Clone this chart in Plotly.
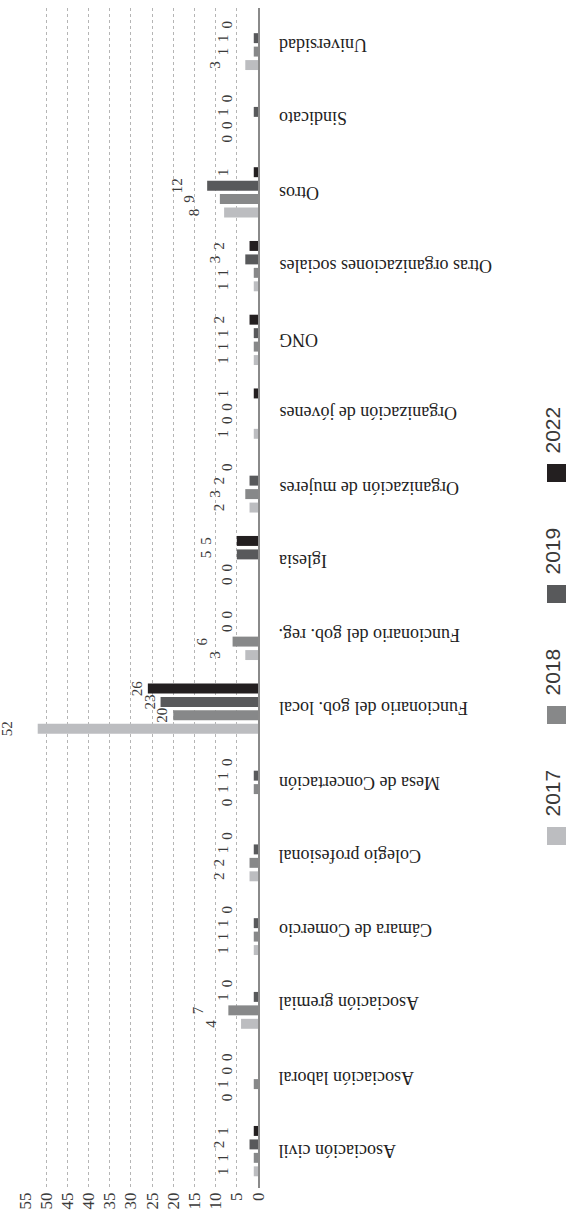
import plotly.graph_objects as go

# ---------------- data ----------------
categories = ["Asociación civil", "Asociación laboral", "Asociación gremial",
              "Cámara de Comercio", "Colegio profesional", "Mesa de Concertación",
              "Funcionario del gob. local", "Funcionario del gob. reg.", "Iglesia",
              "Organización de mujeres", "Organización de jóvenes", "ONG",
              "Otras organizaciones sociales", "Otros", "Sindicato", "Universidad"]
years = ["2017", "2018", "2019", "2022"]
v2017 = [1, 0, 4, 1, 2, 0, 52, 3, 0, 2, 1, 1, 1, 8, 0, 3]
v2018 = [1, 1, 7, 1, 2, 1, 20, 6, 0, 3, 0, 1, 1, 9, 0, 1]
v2019 = [2, 0, 1, 1, 1, 1, 23, 0, 5, 2, 0, 1, 3, 12, 1, 1]
v2022 = [1, 0, 0, 0, 0, 0, 26, 0, 5, 0, 1, 2, 2, 1, 0, 0]
series = [v2017, v2018, v2019, v2022]
value_ticks = list(range(0, 60, 5))

# ---------------- style ----------------
colors = ["#bcbdc0", "#878889", "#58595b", "#231f20"]
W, H = 566, 1225
ML, MR, MT, MB = 25, 308, 8, 37
PW, PH = W - ML - MR, H - MT - MB
SERIF = "Liberation Serif, Times New Roman, serif"
SANS = "Liberation Sans, Arial, sans-serif"
ZERO_LEN = 0.01  # invisible length for zero bars so their "0" label sits on the bar side


def px_x(x):
    return (x - ML) / PW


def px_y(y):
    return (H - MB - y) / PH


tight = {("Funcionario del gob. local", "2018"), ("Funcionario del gob. local", "2019"),
         ("Funcionario del gob. local", "2022")}

fig = go.Figure()
for yr, vals, col in zip(years, series, colors):
    texts, xs, cols = [], [], []
    for c, v in zip(categories, vals):
        texts.append(f"{v}" if (c, yr) in tight else f"{v}<br>\u00a0")
        xs.append(v if v else ZERO_LEN)
        cols.append(col if v else "rgba(0,0,0,0)")
    fig.add_trace(go.Bar(
        y=categories, x=xs, orientation="h", name=yr,
        marker=dict(color=cols, line=dict(width=0)),
        text=texts, textposition="outside", textangle=-90,
        constraintext="none", cliponaxis=False,
        textfont=dict(family=SERIF, size=15, color="#3a3a3a"),
        hoverinfo="skip",
    ))

# category labels (upside down, like the rotated original page)
annotations = []
for c in categories:
    annotations.append(dict(
        x=px_x(277), xref="paper", y=c, yref="y",
        text=c, showarrow=False, textangle=180,
        xanchor="left", yanchor="middle",
        font=dict(family=SERIF, size=18, color="#222222"),
    ))

# legend (rotated)
shapes = []
leg_sq_top = [827, 706, 585, 464]
for yr, col, top in zip(years, colors, leg_sq_top):
    shapes.append(dict(type="rect", xref="paper", yref="paper",
                       x0=px_x(547), x1=px_x(566), y0=px_y(top + 18), y1=px_y(top),
                       fillcolor=col, line=dict(width=0)))
    annotations.append(dict(
        x=px_x(552), xref="paper", y=px_y(top - 8), yref="paper",
        text=yr, showarrow=False, textangle=-90,
        xanchor="center", yanchor="bottom",
        font=dict(family=SANS, size=21, color="#3a3a3a"),
    ))

fig.update_layout(
    width=W, height=H, autosize=False,
    margin=dict(l=ML, r=MR, t=MT, b=MB, pad=0),
    paper_bgcolor="white", plot_bgcolor="white",
    barmode="group", bargap=0.27, bargroupgap=0.26,
    showlegend=False,
    annotations=annotations, shapes=shapes,
    xaxis=dict(range=[55, 0], tickvals=value_ticks,
               ticktext=[str(t) for t in value_ticks],
               tickangle=-90, showgrid=True, gridcolor="#b5b5b5",
               griddash="dot", gridwidth=1, zeroline=False, showline=False,
               ticks="", automargin=False,
               tickfont=dict(family=SERIF, size=17, color="#3a3a3a")),
    yaxis=dict(categoryorder="array", categoryarray=categories,
               side="right", showticklabels=False, showgrid=False,
               showline=True, linecolor="#8a8a8a", linewidth=1.5,
               zeroline=False, ticks="", automargin=False),
)

fig.write_html("out.html",
               config={"displayModeBar": False, "staticPlot": False},
               post_script="document.body.style.margin='0px';document.body.style.overflow='hidden';")
